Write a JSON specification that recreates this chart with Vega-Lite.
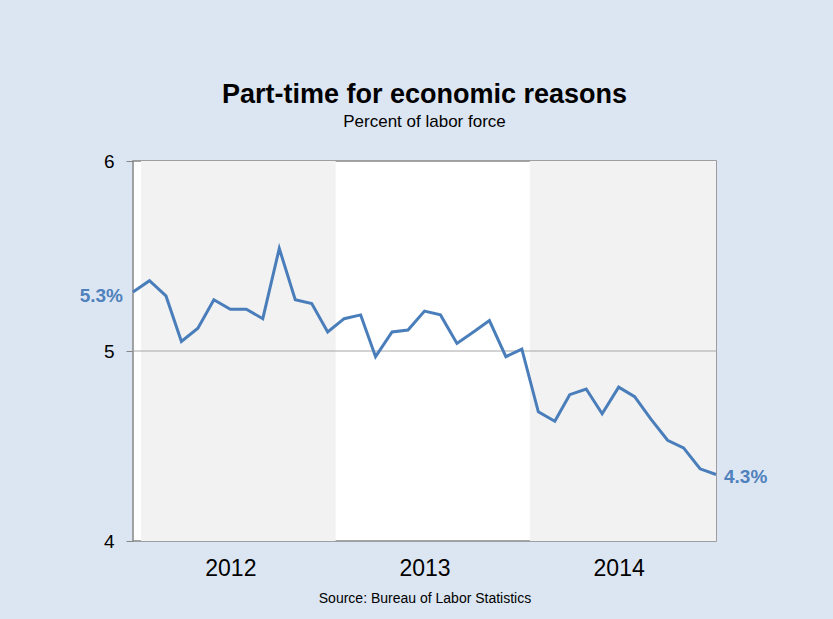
{
  "$schema": "https://vega.github.io/schema/vega-lite/v6.json",
  "autosize": "none",
  "padding": {"left": 133, "top": 161, "right": 117, "bottom": 78},
  "width": 583,
  "height": 380,
  "background": "#dce6f2",
  "config": {
    "font": "Liberation Sans",
    "view": {"fill": "white", "stroke": "#868686", "strokeWidth": 1.5}
  },
  "title": {
    "text": "Part-time for economic reasons",
    "subtitle": "Percent of labor force",
    "fontSize": 27,
    "fontWeight": "bold",
    "color": "#000000",
    "subtitleFontSize": 17,
    "subtitleColor": "#000000",
    "subtitlePadding": 5,
    "anchor": "middle",
    "frame": "group",
    "offset": 21
  },
  "datasets": {
    "series": [
      {"date": "2011-12-01", "value": 5.31, "label": "5.3%"},
      {"date": "2012-01-01", "value": 5.37},
      {"date": "2012-02-01", "value": 5.29},
      {"date": "2012-03-01", "value": 5.05},
      {"date": "2012-04-01", "value": 5.12},
      {"date": "2012-05-01", "value": 5.27},
      {"date": "2012-06-01", "value": 5.22},
      {"date": "2012-07-01", "value": 5.22},
      {"date": "2012-08-01", "value": 5.17},
      {"date": "2012-09-01", "value": 5.54},
      {"date": "2012-10-01", "value": 5.27},
      {"date": "2012-11-01", "value": 5.25},
      {"date": "2012-12-01", "value": 5.10},
      {"date": "2013-01-01", "value": 5.17},
      {"date": "2013-02-01", "value": 5.19},
      {"date": "2013-03-01", "value": 4.97},
      {"date": "2013-04-01", "value": 5.10},
      {"date": "2013-05-01", "value": 5.11},
      {"date": "2013-06-01", "value": 5.21},
      {"date": "2013-07-01", "value": 5.19},
      {"date": "2013-08-01", "value": 5.04},
      {"date": "2013-09-01", "value": 5.10},
      {"date": "2013-10-01", "value": 5.16},
      {"date": "2013-11-01", "value": 4.97},
      {"date": "2013-12-01", "value": 5.01},
      {"date": "2014-01-01", "value": 4.68},
      {"date": "2014-02-01", "value": 4.63},
      {"date": "2014-03-01", "value": 4.77},
      {"date": "2014-04-01", "value": 4.80},
      {"date": "2014-05-01", "value": 4.67},
      {"date": "2014-06-01", "value": 4.81},
      {"date": "2014-07-01", "value": 4.76},
      {"date": "2014-08-01", "value": 4.64},
      {"date": "2014-09-01", "value": 4.53},
      {"date": "2014-10-01", "value": 4.49},
      {"date": "2014-11-01", "value": 4.38},
      {"date": "2014-12-01", "value": 4.35, "label": "4.3%"}
    ],
    "bands": [
      {"year": "2012", "start": "2011-12-16", "end": "2012-12-16"},
      {"year": "2014", "start": "2013-12-16", "end": "2014-12-01"}
    ]
  },
  "layer": [
    {
      "data": {"name": "bands"},
      "mark": {"type": "rect", "color": "#f2f2f2"},
      "encoding": {
        "x": {
          "field": "start",
          "type": "temporal",
          "scale": {
            "type": "utc",
            "domain": [
              {"year": 2011, "month": 12, "date": 1, "utc": true},
              {"year": 2014, "month": 12, "date": 1, "utc": true}
            ]
          },
          "axis": {
            "values": [
              {"year": 2012, "month": 6, "date": 1, "utc": true},
              {"year": 2013, "month": 6, "date": 1, "utc": true},
              {"year": 2014, "month": 6, "date": 1, "utc": true}
            ],
            "format": "%Y",
            "ticks": false,
            "domain": false,
            "grid": false,
            "labelFontSize": 23,
            "labelColor": "#000000",
            "labelPadding": 16,
            "title": "Source: Bureau of Labor Statistics",
            "titleFontSize": 14,
            "titleFontWeight": "normal",
            "titleColor": "#000000",
            "titlePadding": 11
          }
        },
        "x2": {"field": "end"}
      }
    },
    {
      "data": {"values": [{}]},
      "mark": {"type": "rule", "color": "#a6a6a6", "strokeWidth": 1},
      "encoding": {"y": {"datum": 5, "type": "quantitative"}}
    },
    {
      "data": {"name": "series"},
      "mark": {"type": "line", "color": "#4a7ebb", "strokeWidth": 3},
      "encoding": {
        "x": {"field": "date", "type": "temporal"},
        "y": {
          "field": "value",
          "type": "quantitative",
          "scale": {"domain": [4, 6], "nice": false, "zero": false},
          "axis": {
            "values": [4, 5, 6],
            "labelExpr": "format(datum.value, 'd')",
            "labelOverlap": false,
            "title": null,
            "grid": false,
            "domain": false,
            "tickSize": 7,
            "tickColor": "#868686",
            "labelFontSize": 19,
            "labelColor": "#000000",
            "labelPadding": 12
          }
        }
      }
    },
    {
      "data": {"name": "series"},
      "transform": [{"filter": "datum.label == '5.3%'"}],
      "mark": {"type": "text", "align": "right", "baseline": "middle", "dx": -10, "dy": 4, "fontSize": 19, "fontWeight": "bold", "color": "#4f81bd"},
      "encoding": {
        "x": {"field": "date", "type": "temporal"},
        "y": {"field": "value", "type": "quantitative"},
        "text": {"field": "label"}
      }
    },
    {
      "data": {"name": "series"},
      "transform": [{"filter": "datum.label == '4.3%'"}],
      "mark": {"type": "text", "align": "left", "baseline": "middle", "dx": 8, "dy": 2, "fontSize": 19, "fontWeight": "bold", "color": "#4f81bd"},
      "encoding": {
        "x": {"field": "date", "type": "temporal"},
        "y": {"field": "value", "type": "quantitative"},
        "text": {"field": "label"}
      }
    }
  ]
}
